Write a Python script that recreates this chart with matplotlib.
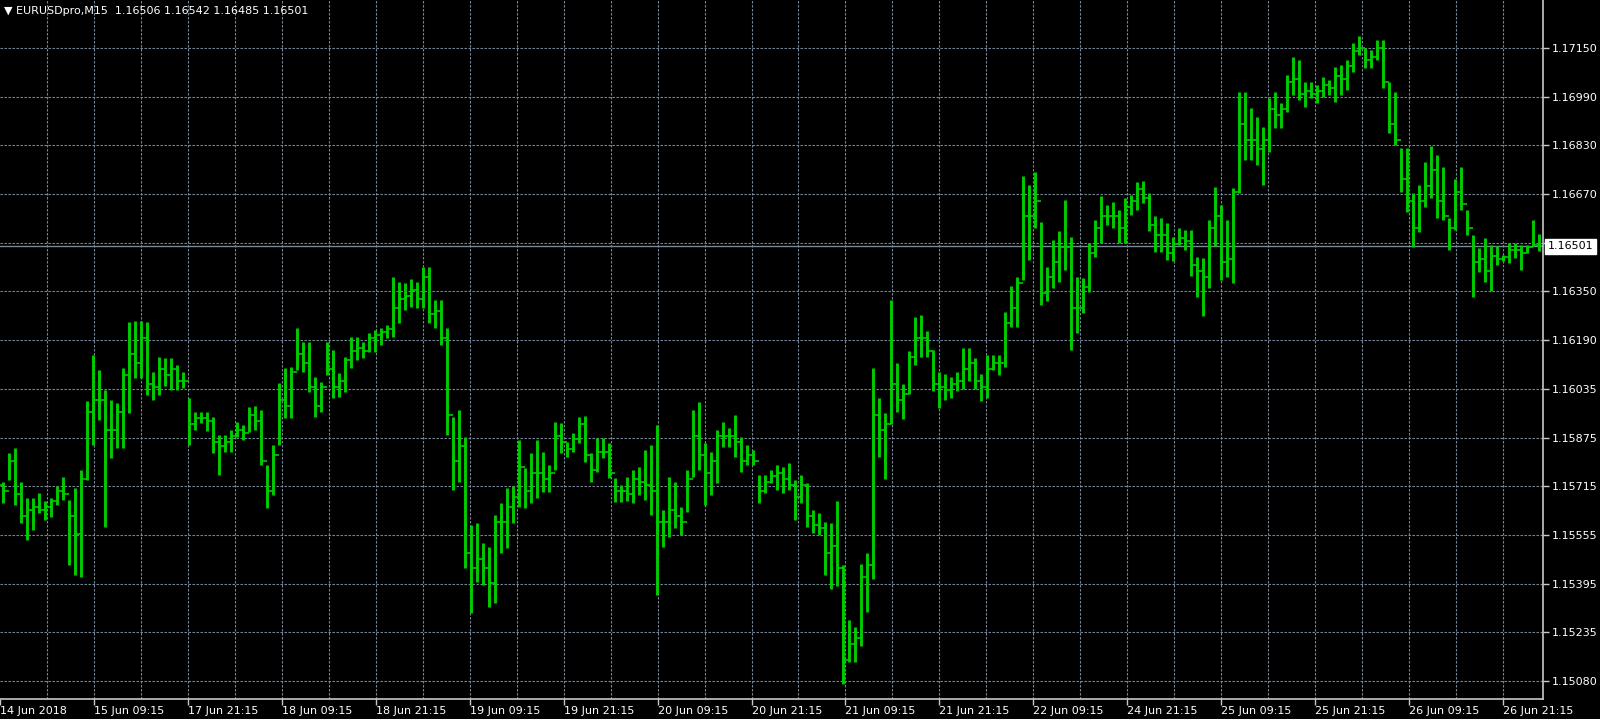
import numpy as np
import matplotlib.pyplot as plt

# EURUSD M15, prices given as 1e-5 steps above 1.15000
symbol = "EURUSDpro,M15"
last_ohlc = ["1.16506", "1.16542", "1.16485", "1.16501"]
last_price = 1.16501
first_open = 720

highs = [732, 827, 841, 732, 677, 677, 694, 667, 677, 716,
         748, 672, 710, 770, 994, 1146, 1097, 1032, 999, 988,
         1103, 1255, 1258, 1258, 1255, 1092, 1141, 1135, 1135, 1113,
         1092, 1004, 961, 961, 961, 944, 885, 885, 901, 928,
         917, 977, 979, 966, 786, 852, 1053, 1103, 1108, 1233,
         1190, 1190, 1075, 1059, 1190, 1162, 1086, 1141, 1206, 1206,
         1190, 1217, 1228, 1233, 1244, 1402, 1386, 1380, 1394, 1386,
         1435, 1433, 1326, 1326, 1233, 944, 966, 879, 590, 596,
         530, 519, 623, 661, 710, 716, 868, 776, 825, 868,
         830, 786, 928, 923, 863, 890, 944, 948, 825, 874,
         874, 857, 743, 721, 748, 770, 781, 835, 852, 917,
         639, 748, 732, 650, 770, 966, 991, 857, 830, 901,
         928, 906, 950, 879, 852, 835, 754, 754, 770, 786,
         781, 792, 737, 754, 726, 639, 628, 601, 595, 667,
         459, 278, 256, 464, 498, 1102, 1006, 955, 1327, 1119,
         1051, 1158, 1271, 1276, 1226, 1164, 1090, 1085, 1073, 1090,
         1169, 1169, 1135, 1085, 1147, 1147, 1147, 1288, 1372, 1400,
         1730, 1702, 1743, 1582, 1435, 1522, 1550, 1653, 1533, 1402,
         1397, 1511, 1588, 1666, 1637, 1648, 1620, 1659, 1670, 1713,
         1716, 1675, 1599, 1593, 1577, 1533, 1561, 1555, 1555, 1468,
         1462, 1588, 1697, 1637, 1588, 1691, 2007, 2007, 1953, 1926,
         1893, 1985, 2007, 1969, 2062, 2122, 2111, 2040, 2040, 2029,
         2056, 2045, 2089, 2094, 2111, 2165, 2189, 2149, 2143, 2176,
         2176, 2040, 2007, 1822, 1822, 1675, 1702, 1778, 1830, 1800,
         1760, 1593, 1720, 1760, 1621, 1539, 1495, 1528, 1506, 1501,
         1473, 1512, 1512, 1506, 1506, 1588, 1542]

lows = [661, 737, 656, 596, 541, 574, 628, 607, 617, 656,
        672, 459, 427, 421, 737, 852, 934, 585, 808, 841,
        841, 955, 1070, 1070, 1015, 999, 1015, 1043, 1032, 1032,
        1037, 852, 901, 923, 896, 825, 754, 830, 830, 879,
        868, 895, 901, 786, 645, 688, 852, 939, 939, 1097,
        1092, 1026, 944, 961, 1081, 1004, 1010, 1026, 1103, 1130,
        1135, 1157, 1157, 1179, 1201, 1206, 1250, 1293, 1304, 1299,
        1299, 1250, 1233, 1179, 884, 705, 732, 448, 301, 405,
        394, 323, 334, 498, 514, 596, 650, 645, 661, 677,
        699, 699, 770, 825, 814, 830, 857, 797, 732, 765,
        808, 743, 666, 666, 667, 661, 688, 672, 623, 361,
        519, 552, 579, 557, 634, 748, 770, 656, 688, 726,
        846, 846, 814, 765, 786, 786, 661, 694, 726, 705,
        694, 705, 606, 661, 585, 563, 557, 427, 380, 391,
        69, 143, 143, 194, 306, 413, 814, 741, 921, 961,
        938, 1017, 1113, 1141, 1141, 1028, 972, 1000, 1006, 1028,
        1034, 1062, 1034, 994, 1006, 1096, 1079, 1107, 1237, 1237,
        1390, 1457, 1561, 1310, 1321, 1364, 1386, 1424, 1163, 1217,
        1283, 1353, 1468, 1511, 1571, 1561, 1511, 1511, 1604, 1620,
        1642, 1550, 1484, 1484, 1457, 1452, 1506, 1490, 1403, 1337,
        1272, 1364, 1501, 1392, 1400, 1380, 1675, 1784, 1784, 1767,
        1702, 1811, 1887, 1887, 1942, 1996, 1980, 1958, 1985, 1969,
        1991, 1996, 1975, 1996, 2013, 2073, 2127, 2084, 2084, 2111,
        2018, 1871, 1833, 1680, 1615, 1500, 1549, 1631, 1660, 1593,
        1588, 1490, 1555, 1621, 1539, 1337, 1419, 1386, 1354, 1441,
        1452, 1446, 1463, 1424, 1479, 1501, 1485]

closes = [700, 800, 690, 620, 640, 650, 640, 650, 670, 700,
          690, 620, 560, 740, 960, 1000, 1000, 900, 900, 960,
          1080, 1150, 1120, 1200, 1050, 1040, 1100, 1080, 1100, 1060,
          1060, 920, 940, 940, 930, 860, 850, 860, 880, 900,
          890, 950, 930, 800, 700, 820, 1000, 980, 1090, 1150,
          1120, 1040, 980, 1040, 1100, 1040, 1060, 1130, 1160, 1170,
          1160, 1200, 1210, 1220, 1230, 1300, 1330, 1340, 1360, 1330,
          1400, 1280, 1290, 1200, 950, 800, 850, 500, 450, 480,
          450, 400, 600, 600, 650, 680, 780, 700, 760, 760,
          740, 760, 880, 860, 840, 870, 920, 820, 770, 830,
          830, 760, 700, 700, 690, 740, 730, 720, 700, 600,
          600, 640, 620, 600, 740, 880, 820, 760, 800, 880,
          880, 880, 860, 800, 820, 800, 700, 730, 750, 760,
          740, 720, 680, 720, 620, 590, 580, 500, 520, 450,
          150, 200, 220, 420, 460, 950, 900, 920, 1050, 1000,
          1020, 1140, 1200, 1200, 1160, 1050, 1040, 1030, 1050, 1060,
          1100, 1120, 1060, 1040, 1100, 1120, 1120, 1250, 1300, 1380,
          1600, 1600, 1650, 1350, 1400, 1450, 1500, 1500, 1300, 1300,
          1370, 1480, 1560, 1600, 1600, 1600, 1560, 1630, 1650, 1690,
          1660, 1570, 1540, 1540, 1480, 1510, 1530, 1520, 1440, 1420,
          1400, 1560, 1600, 1450, 1460, 1680, 1900, 1850, 1850, 1820,
          1850, 1950, 1930, 1950, 2040, 2050, 2000, 2010, 2000, 2010,
          2030, 2020, 2060, 2050, 2090, 2140, 2150, 2110, 2120, 2150,
          2040, 1900, 1850, 1720, 1650, 1560, 1650, 1700, 1750, 1650,
          1600, 1560, 1680, 1640, 1560, 1450, 1460, 1420, 1470, 1460,
          1465, 1490, 1490, 1480, 1500, 1506, 1501]

date_labels = ["14 Jun 2018", "15 Jun 09:15", "17 Jun 21:15", "18 Jun 09:15",
               "18 Jun 21:15", "19 Jun 09:15", "19 Jun 21:15", "20 Jun 09:15",
               "20 Jun 21:15", "21 Jun 09:15", "21 Jun 21:15", "22 Jun 09:15",
               "24 Jun 21:15", "25 Jun 09:15", "25 Jun 21:15", "26 Jun 09:15",
               "26 Jun 21:15"]

price_labels = ["1.17150", "1.16990", "1.16830", "1.16670", "", "1.16350",
                "1.16190", "1.16035", "1.15875", "1.15715", "1.15555",
                "1.15395", "1.15235", "1.15080"]

base = 1.15
hi = base + np.array(highs) * 1e-5
lo = base + np.array(lows) * 1e-5
cl = base + np.array(closes) * 1e-5
op = np.r_[base + first_open * 1e-5, cl[:-1]]
x = np.arange(len(hi))

bar_col = '#00cc00'
grid_col = '#778899'
axis_col = '#c8c8c8'

fig = plt.figure(figsize=(16, 7.19), dpi=100, facecolor='black')
ax = fig.add_axes([0, 20 / 719, 1543 / 1600, 699 / 719])
ax.set_facecolor('black')

# one bar step = 6 px, 47 px between vertical grid lines
px = 6.0
ax.set_xlim(-0.5, (1543 - 3) / px)
ax.set_ylim(1.15021, 1.17307)

dash = (0, (2.2, 1.4))
for k in range(1, 33):
    ax.axvline((46.97 * k - 3) / px, color=grid_col, lw=0.8, ls=dash, zorder=1)
grid_y = np.linspace(1.17150, 1.15080, len(price_labels))
for gy in grid_y:
    ax.axhline(gy, color=grid_col, lw=0.8, ls=dash, zorder=1)

ax.axhline(last_price, color=grid_col, lw=1.0, zorder=1)

ax.vlines(x, lo, hi, color=bar_col, lw=2.1, zorder=3)
ax.hlines(op, x - 0.5, x, color=bar_col, lw=1.2, zorder=3)
ax.hlines(cl, x, x + 0.5, color=bar_col, lw=1.2, zorder=3)

for s in ['top', 'left']:
    ax.spines[s].set_visible(False)
for s in ['right', 'bottom']:
    ax.spines[s].set_color(axis_col)
    ax.spines[s].set_linewidth(1.2)

ax.yaxis.tick_right()
ax.set_yticks(grid_y)
ax.set_yticklabels(price_labels)
ax.tick_params(axis='y', colors=axis_col, labelcolor='white', length=4,
               width=1, labelsize=8, pad=2)

xt = (93.94 * np.arange(len(date_labels)) - 3) / px
ax.set_xticks(xt)
ax.set_xticklabels(date_labels, ha='left')
ax.tick_params(axis='x', colors=axis_col, labelcolor='white', length=4,
               width=1, labelsize=8, pad=1)

ax.text(1.003, last_price, "1.16501", transform=ax.get_yaxis_transform(),
        color='black', fontsize=8, va='center', ha='left', zorder=6,
        bbox=dict(boxstyle='square,pad=0.25', fc='white', ec='white'),
        clip_on=False)

fig.text(4 / 1600, 1 - 11 / 719,
         "\u25bc " + symbol + "  " + " ".join(last_ohlc),
         color='white', fontsize=8, va='center', ha='left')

fig.savefig('out.png', dpi=100, facecolor='black')
